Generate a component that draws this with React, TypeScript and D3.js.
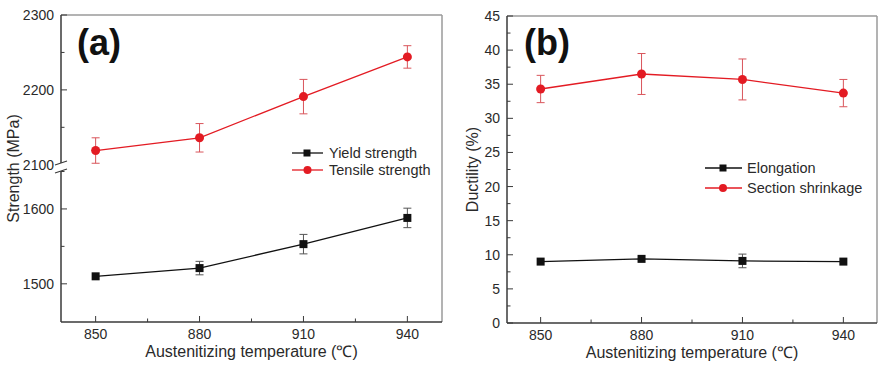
import React from "react";
import * as d3 from "d3";

const temps = [850, 880, 910, 940];
const yieldStrength = [1510, 1521, 1553, 1588];
const yieldErr = [0, 9, 13, 13];
const tensileStrength = [2119, 2136, 2191, 2244];
const tensileErr = [17, 19, 23, 15];
const elongation = [9.0, 9.4, 9.1, 9.0];
const elongationErr = [0, 0, 1.0, 0];
const shrinkage = [34.3, 36.5, 35.7, 33.7];
const shrinkageErr = [2.0, 3.0, 3.0, 2.0];

const upperTicks = [2100, 2200, 2300];
const lowerTicks = [1500, 1600];
const ductTicks = [0, 5, 10, 15, 20, 25, 30, 35, 40, 45];

const RED = "#e31b23";
const RED_ERR = "#d9555b";
const FONT = "'Liberation Sans', Arial, sans-serif";
const AXIS = "#3a3a3a";
const FRAME = "#9a9a9a";
const TXT = "#2a2a2a";

type Pt = { x: number; y: number; e: number };

function Series({ pts, color, errColor, marker }: { pts: Pt[]; color: string; errColor: string; marker: "square" | "circle" }) {
  const line = d3.line<Pt>().x(d => d.x).y(d => d.y);
  return (
    <g>
      {pts.map((p, i) =>
        p.e > 0 ? (
          <g key={"e" + i} stroke={errColor} strokeWidth={1}>
            <line x1={p.x} x2={p.x} y1={p.y - p.e} y2={p.y + p.e} />
            <line x1={p.x - 4} x2={p.x + 4} y1={p.y - p.e} y2={p.y - p.e} />
            <line x1={p.x - 4} x2={p.x + 4} y1={p.y + p.e} y2={p.y + p.e} />
          </g>
        ) : null
      )}
      <path d={line(pts) || ""} fill="none" stroke={color} strokeWidth={1.3} />
      {pts.map((p, i) =>
        marker === "square" ? (
          <rect key={"m" + i} x={p.x - 4} y={p.y - 4} width={8} height={8} fill={color} />
        ) : (
          <circle key={"m" + i} cx={p.x} cy={p.y} r={4.5} fill={color} />
        )
      )}
    </g>
  );
}

function XAxis({ x, left, right, bottom, title }: { x: d3.ScaleLinear<number, number>; left: number; right: number; bottom: number; title: string }) {
  const minor = temps.slice(0, -1).map((t, i) => (t + temps[i + 1]) / 2);
  return (
    <g>
      {temps.map(t => (
        <g key={t}>
          <line x1={x(t)} x2={x(t)} y1={bottom} y2={bottom - 6} stroke={AXIS} strokeWidth={1} />
          <text x={x(t)} y={bottom + 17} textAnchor="middle" fontSize={14} fontFamily={FONT} fill={TXT}>{t}</text>
        </g>
      ))}
      {minor.map(t => (
        <line key={t} x1={x(t)} x2={x(t)} y1={bottom} y2={bottom - 3.5} stroke={AXIS} strokeWidth={1} />
      ))}
      <text x={(left + right) / 2} y={bottom + 35} textAnchor="middle" fontSize={16} fontFamily={FONT} fill={TXT}>{title}</text>
    </g>
  );
}

function PanelA() {
  const left = 61, right = 442, top = 15, bottom = 322;
  const x = d3.scaleLinear().domain([840, 950]).range([left, right]);
  const yU = d3.scaleLinear().domain([2300, 2097]).range([top, 167]);
  const yL = d3.scaleLinear().domain([1652, 1449]).range([170, bottom]);
  const yieldPts = temps.map((t, i) => ({ x: x(t), y: yL(yieldStrength[i]), e: yL(yieldStrength[i] - yieldErr[i]) - yL(yieldStrength[i]) }));
  const tensPts = temps.map((t, i) => ({ x: x(t), y: yU(tensileStrength[i]), e: yU(tensileStrength[i] - tensileErr[i]) - yU(tensileStrength[i]) }));
  const upperMinor = [2150, 2250];
  const lowerMinor = [1550, 1650];
  return (
    <g>
      <line x1={left} x2={right} y1={top} y2={top} stroke={FRAME} strokeWidth={1.5} />
      <line x1={right} x2={right} y1={top} y2={bottom} stroke={FRAME} strokeWidth={1.5} />
      <line x1={left} x2={right} y1={bottom} y2={bottom} stroke={AXIS} strokeWidth={1.5} />
      <line x1={left} x2={left} y1={top} y2={163} stroke={AXIS} strokeWidth={1.5} />
      <line x1={left} x2={left} y1={171} y2={bottom} stroke={AXIS} strokeWidth={1.5} />
      <line x1={55} x2={67} y1={165} y2={161} stroke={AXIS} strokeWidth={1.2} />
      <line x1={55} x2={67} y1={173} y2={169} stroke={AXIS} strokeWidth={1.2} />
      {upperTicks.map(t => (
        <g key={t}>
          {t !== 2100 && <line x1={left} x2={left + 6} y1={yU(t)} y2={yU(t)} stroke={AXIS} strokeWidth={1} />}
          <text x={left - 7} y={yU(t) + 5} textAnchor="end" fontSize={14} fontFamily={FONT} fill={TXT}>{t}</text>
        </g>
      ))}
      {upperMinor.map(t => (
        <line key={t} x1={left} x2={left + 3.5} y1={yU(t)} y2={yU(t)} stroke={AXIS} strokeWidth={1} />
      ))}
      {lowerTicks.map(t => (
        <g key={t}>
          <line x1={left} x2={left + 6} y1={yL(t)} y2={yL(t)} stroke={AXIS} strokeWidth={1} />
          <text x={left - 7} y={yL(t) + 5} textAnchor="end" fontSize={14} fontFamily={FONT} fill={TXT}>{t}</text>
        </g>
      ))}
      {lowerMinor.map(t => (
        <line key={t} x1={left} x2={left + 3.5} y1={yL(t)} y2={yL(t)} stroke={AXIS} strokeWidth={1} />
      ))}
      <XAxis x={x} left={left} right={right} bottom={bottom} title="Austenitizing temperature (℃)" />
      <text transform={`translate(19,${(top + bottom) / 2}) rotate(-90)`} textAnchor="middle" fontSize={16} fontFamily={FONT} fill={TXT}>Strength (MPa)</text>
      <Series pts={tensPts} color={RED} errColor={RED_ERR} marker="circle" />
      <Series pts={yieldPts} color="#111" errColor="#555" marker="square" />
      <text x={77} y={55} fontSize={36} fontWeight="bold" fontFamily={FONT} fill="#111">(a)</text>
      <g fontFamily={FONT} fontSize={14.5} fill={TXT}>
        <line x1={292} x2={323} y1={153} y2={153} stroke="#111" strokeWidth={1.3} />
        <rect x={303.5} y={149.5} width={7} height={7} fill="#111" />
        <text x={329} y={158}>Yield strength</text>
        <line x1={292} x2={323} y1={170} y2={170} stroke={RED} strokeWidth={1.3} />
        <circle cx={307.5} cy={170} r={4} fill={RED} />
        <text x={329} y={175}>Tensile strength</text>
      </g>
    </g>
  );
}

function PanelB() {
  const left = 507, right = 877, top = 16, bottom = 323;
  const x = d3.scaleLinear().domain([840, 950]).range([left, right]);
  const y = d3.scaleLinear().domain([0, 45]).range([bottom, top]);
  const elPts = temps.map((t, i) => ({ x: x(t), y: y(elongation[i]), e: y(elongation[i] - elongationErr[i]) - y(elongation[i]) }));
  const shPts = temps.map((t, i) => ({ x: x(t), y: y(shrinkage[i]), e: y(shrinkage[i] - shrinkageErr[i]) - y(shrinkage[i]) }));
  const minor = ductTicks.slice(0, -1).map(t => t + 2.5);
  return (
    <g>
      <line x1={left} x2={right} y1={top} y2={top} stroke={FRAME} strokeWidth={1.5} />
      <line x1={right} x2={right} y1={top} y2={bottom} stroke={FRAME} strokeWidth={1.5} />
      <line x1={left} x2={right} y1={bottom} y2={bottom} stroke={AXIS} strokeWidth={1.5} />
      <line x1={left} x2={left} y1={top} y2={bottom} stroke={AXIS} strokeWidth={1.5} />
      {ductTicks.map(t => (
        <g key={t}>
          <line x1={left} x2={left + 6} y1={y(t)} y2={y(t)} stroke={AXIS} strokeWidth={1} />
          <text x={left - 7} y={y(t) + 5} textAnchor="end" fontSize={14} fontFamily={FONT} fill={TXT}>{t}</text>
        </g>
      ))}
      {minor.map(t => (
        <line key={t} x1={left} x2={left + 3.5} y1={y(t)} y2={y(t)} stroke={AXIS} strokeWidth={1} />
      ))}
      <XAxis x={x} left={left} right={right} bottom={bottom} title="Austenitizing temperature (℃)" />
      <text transform={`translate(478,${(top + bottom) / 2}) rotate(-90)`} textAnchor="middle" fontSize={16} fontFamily={FONT} fill={TXT}>Ductility (%)</text>
      <Series pts={shPts} color={RED} errColor={RED_ERR} marker="circle" />
      <Series pts={elPts} color="#111" errColor="#555" marker="square" />
      <text x={524} y={55} fontSize={36} fontWeight="bold" fontFamily={FONT} fill="#111">(b)</text>
      <g fontFamily={FONT} fontSize={14.5} fill={TXT}>
        <line x1={705} x2={742} y1={168} y2={168} stroke="#111" strokeWidth={1.3} />
        <rect x={719.5} y={164.5} width={7} height={7} fill="#111" />
        <text x={747} y={173}>Elongation</text>
        <line x1={705} x2={742} y1={188} y2={188} stroke={RED} strokeWidth={1.3} />
        <circle cx={723} cy={188} r={4} fill={RED} />
        <text x={747} y={193}>Section shrinkage</text>
      </g>
    </g>
  );
}

export default function App() {
  return (
    <svg width={881} height={367} viewBox="0 0 881 367" style={{ position: "absolute", left: 0, top: 0, background: "#fff" }}>
      <rect width={881} height={367} fill="#fff" />
      <PanelA />
      <PanelB />
    </svg>
  );
}
